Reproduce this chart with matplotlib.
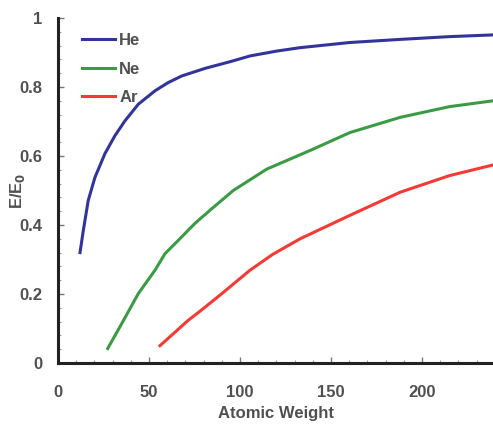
import matplotlib
matplotlib.use("Agg")
import matplotlib.pyplot as plt
from matplotlib.ticker import MultipleLocator

# values (target atomic weight vs E/E0)
he_x = [12.1, 13.9, 16.6, 20.3, 25.8, 31.3, 36.8, 44.1, 53.3, 60.6, 68.0, 80.8, 95.0, 105.5, 120.0, 133.0, 160.4, 188.0, 215.0, 239.0]
he_y = [0.32, 0.384, 0.471, 0.538, 0.607, 0.659, 0.702, 0.75, 0.789, 0.813, 0.832, 0.854, 0.874, 0.89, 0.904, 0.914, 0.929, 0.938, 0.946, 0.951]

ne_x = [27.3, 35.0, 44.1, 53.3, 58.8, 66.0, 75.3, 84.0, 96.3, 114.7, 138.5, 160.4, 188.0, 215.0, 239.0]
ne_y = [0.042, 0.114, 0.201, 0.269, 0.317, 0.355, 0.405, 0.445, 0.5, 0.562, 0.616, 0.668, 0.712, 0.743, 0.76]

ar_x = [56.0, 71.6, 78.0, 90.0, 105.5, 118.0, 133.0, 160.4, 188.0, 215.0, 239.0]
ar_y = [0.05, 0.124, 0.15, 0.201, 0.269, 0.315, 0.36, 0.428, 0.495, 0.543, 0.574]

labels = ["He", "Ne", "Ar"]
colors = ["#33349a", "#3b9a44", "#f43a34"]

TXT = "#505050"
FS = 12
plt.rcParams["font.family"] = ["Liberation Sans", "DejaVu Sans"]
plt.rcParams["font.weight"] = "bold"
plt.rcParams["axes.labelweight"] = "bold"

fig = plt.figure(figsize=(4.93, 4.29), dpi=100)
ax = fig.add_axes([58/493, 66/429, 1 - 58/493, (363 - 18)/429])

for xs, ys, lab, c in zip([he_x, ne_x, ar_x], [he_y, ne_y, ar_y], labels, colors):
    ax.plot(xs, ys, color=c, lw=2.2, label=lab, solid_joinstyle="round")

ax.set_xlim(0, 239)
ax.set_ylim(0, 1)
ax.xaxis.set_major_locator(MultipleLocator(50))
ax.xaxis.set_minor_locator(MultipleLocator(10))
ax.yaxis.set_minor_locator(MultipleLocator(0.04))
ax.set_yticks([0, 0.2, 0.4, 0.6, 0.8, 1.0])
ax.set_yticklabels(["0", "0.2", "0.4", "0.6", "0.8", "1"])

for s in ("top", "right"):
    ax.spines[s].set_visible(False)
for s in ("left", "bottom"):
    ax.spines[s].set_linewidth(2.2)
    ax.spines[s].set_color("#222222")

ax.tick_params(which="major", direction="in", length=4, width=1, color="#777777",
               labelsize=FS, labelcolor=TXT)
ax.tick_params(which="minor", direction="in", length=2.5, width=0.8, color="#999999")
ax.tick_params(axis="x", which="major", pad=16)
ax.tick_params(axis="y", which="major", pad=11)

ax.set_xlabel("Atomic Weight", fontsize=FS, color=TXT)
ax.set_ylabel("E/E$_0$", fontsize=FS, color=TXT)
ax.xaxis.set_label_coords(0.5, -0.125)
ax.yaxis.set_label_coords(-0.072, 0.5)

leg = ax.legend(loc="upper left", frameon=False, fontsize=FS, handlelength=2.0,
                handletextpad=0.25, labelspacing=0.82, bbox_to_anchor=(0.02, 1.0))
for t in leg.get_texts():
    t.set_color(TXT)

fig.savefig("out.png", dpi=100)
